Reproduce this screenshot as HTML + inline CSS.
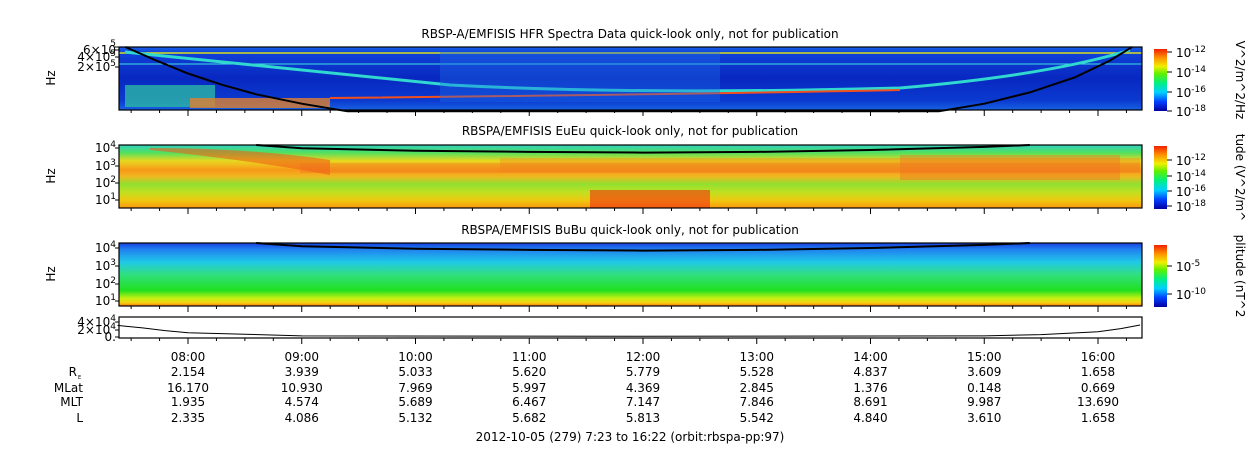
<!DOCTYPE html>
<html><head><meta charset="utf-8"><style>
body{margin:0;background:#fff;width:1250px;height:449px;overflow:hidden}
svg{display:block;font-family:"DejaVu Sans","Liberation Sans",sans-serif}
</style></head><body>
<svg id="chart" width="1250" height="449" xmlns="http://www.w3.org/2000/svg">
<defs>
<linearGradient id="g1" x1="0" y1="0" x2="0" y2="1">
<stop offset="0" stop-color="#1560e8"/><stop offset="0.1" stop-color="#1040d8"/><stop offset="0.5" stop-color="#0828c0"/><stop offset="0.85" stop-color="#0a3ad0"/><stop offset="1" stop-color="#1860e0"/></linearGradient>
<linearGradient id="g2" x1="0" y1="0" x2="0" y2="1">
<stop offset="0" stop-color="#30d0c0"/><stop offset="0.12" stop-color="#50e060"/><stop offset="0.25" stop-color="#e8d820"/><stop offset="0.4" stop-color="#f89818"/><stop offset="0.5" stop-color="#f0b820"/><stop offset="0.62" stop-color="#90e030"/><stop offset="0.75" stop-color="#c0e020"/><stop offset="0.88" stop-color="#f0c810"/><stop offset="1" stop-color="#f89810"/></linearGradient>
<linearGradient id="g3" x1="0" y1="0" x2="0" y2="1">
<stop offset="0" stop-color="#1840e0"/><stop offset="0.1" stop-color="#2080f0"/><stop offset="0.3" stop-color="#20c8e8"/><stop offset="0.5" stop-color="#30e080"/><stop offset="0.75" stop-color="#20e020"/><stop offset="0.88" stop-color="#c8f010"/><stop offset="0.95" stop-color="#f8d010"/><stop offset="1" stop-color="#f87010"/></linearGradient>
<linearGradient id="cb" x1="0" y1="1" x2="0" y2="0">
<stop offset="0" stop-color="#0000a0"/><stop offset="0.15" stop-color="#0040ff"/><stop offset="0.3" stop-color="#00d0ff"/><stop offset="0.45" stop-color="#00f080"/><stop offset="0.6" stop-color="#60f000"/><stop offset="0.72" stop-color="#f0f000"/><stop offset="0.86" stop-color="#ff9000"/><stop offset="1" stop-color="#f02000"/></linearGradient>
</defs>
<g id="layer"></g>
</svg>
<script>
// ephemeris data
const hours=[8,9,10,11,12,13,14,15,16];
const hourLabels=["08:00","09:00","10:00","11:00","12:00","13:00","14:00","15:00","16:00"];
const rE=["2.154","3.939","5.033","5.620","5.779","5.528","4.837","3.609","1.658"];
const mlat=["16.170","10.930","7.969","5.997","4.369","2.845","1.376","0.148","0.669"];
const mlt=["1.935","4.574","5.689","6.467","7.147","7.846","8.691","9.987","13.690"];
const lval=["2.335","4.086","5.132","5.682","5.813","5.542","4.840","3.610","1.658"];
// black curve in HFR panel (fraction of panel height from top)
const curveT=[7.45,7.7,8.0,8.3,8.6,9.0,9.4,14.6,15.0,15.4,15.8,16.1,16.3];
const curveP1=[0.0,0.2,0.42,0.6,0.75,0.9,1.02,1.02,0.9,0.72,0.48,0.22,0.0];
// fce curve in Eu/Bu panels (fraction of panel height from top)
const curve23T=[8.6,9.0,10,11,12,13,14,15,15.4];
const curve23V=[0.0,0.05,0.09,0.11,0.12,0.11,0.08,0.03,0.0];
// bottom panel values (fraction of axis max)
const p4T=[7.38,7.6,7.8,8.0,8.5,9.0,12,15,15.5,16,16.2,16.37];
const p4V=[0.6,0.48,0.35,0.25,0.18,0.1,0.08,0.1,0.16,0.3,0.45,0.62];
const L=119,R=1142;
const x=h=>188+(h-8)*113.75;
const layer=document.getElementById('layer');
const NS='http://www.w3.org/2000/svg';
function el(t,a,txt){const e=document.createElementNS(NS,t);for(const k in a)e.setAttribute(k,a[k]);if(txt!==undefined)e.textContent=txt;layer.appendChild(e);return e;}
const panels=[{y:47,h:63,g:'g1'},{y:145,h:63,g:'g2'},{y:243,h:63,g:'g3'}];
const names=['hfr-spectrogram','eueu-spectrogram','bubu-spectrogram'];
panels.forEach((p,i)=>{
 const r=el('rect',{x:L,y:p.y,width:R-L,height:p.h,fill:'url(#'+p.g+')'});
 
 
});
// panel 1 features
el('line',{x1:L,y1:53,x2:R,y2:53,stroke:'#d8e020','stroke-width':1.5});
el('line',{x1:L,y1:64,x2:R,y2:64,stroke:'#40e0e0','stroke-width':1});
el('path',{d:'M125,52 Q300,70 450,85 Q640,95 900,88 Q1050,75 1130,50',fill:'none',stroke:'#30d8d0','stroke-width':3});
el('path',{d:'M330,98 Q640,95 900,90',fill:'none',stroke:'#f05020','stroke-width':2});
el('rect',{x:125,y:85,width:90,height:22,fill:'#30c8a0',opacity:0.7});
el('rect',{x:190,y:98,width:140,height:10,fill:'#e08030',opacity:0.8});
el('rect',{x:440,y:52,width:280,height:50,fill:'#2070e8',opacity:0.35});
// panel 2 features
el('path',{d:'M150,150 Q250,160 330,175 L330,160 Q250,148 150,148Z',fill:'#f06018',opacity:0.6});
el('rect',{x:300,y:163,width:840,height:10,fill:'#f07020',opacity:0.35});
el('rect',{x:500,y:158,width:640,height:14,fill:'#f08020',opacity:0.35});
el('rect',{x:590,y:190,width:120,height:18,fill:'#f03010',opacity:0.6});
el('rect',{x:900,y:155,width:220,height:25,fill:'#f07020',opacity:0.4});
// curves
function curve(T,V,p){let d='';T.forEach((t,i)=>{d+=(i?'L':'M')+x(t).toFixed(1)+','+(p.y+V[i]*p.h).toFixed(1);});return d;}
const c1=el('path',{d:curve(curveT,curveP1,panels[0]),fill:'none',stroke:'#000','stroke-width':2});


[1,2].forEach(i=>{const c=el('path',{d:curve(curve23T,curve23V,panels[i]),fill:'none',stroke:'#000','stroke-width':2});
 
 });
// panel 4
const p4={y:317,h:21};
let d4='';p4T.forEach((t,i)=>{d4+=(i?'L':'M')+x(t).toFixed(1)+','+(p4.y+p4.h*(1-p4V[i])).toFixed(1);});
const l4=el('path',{d:d4,fill:'none',stroke:'#000','stroke-width':1});


// frames and ticks
[...panels,p4].forEach(p=>{
 el('rect',{x:L,y:p.y,width:R-L,height:p.h,fill:'none',stroke:'#000','stroke-width':1.2});
 for(let m=7.5;m<=16.3;m+=0.25){const X=x(m);const maj=Math.abs(m-Math.round(m))<0.01;
  el('line',{x1:X,y1:p.y+p.h,x2:X,y2:p.y+p.h+(maj?6:3),stroke:'#000','stroke-width':1});}
});
// titles
const titles=[[630,38,'RBSP-A/EMFISIS  HFR Spectra Data quick-look only, not for publication'],[630,135,'RBSPA/EMFISIS  EuEu quick-look only, not for publication'],[630,234,'RBSPA/EMFISIS  BuBu quick-look only, not for publication']];
titles.forEach((t,i)=>{const e=el('text',{x:t[0],y:t[1],'font-size':12,'text-anchor':'middle'},t[2]);
 
 });
// y ticks
function ytick(y,label,sup){const t=el('text',{x:116,y:y+4,'font-size':12,'text-anchor':'end'});
 t.appendChild(document.createTextNode(label));
 if(sup){const s=document.createElementNS(NS,'tspan');s.setAttribute('dy',-5);s.setAttribute('font-size',9);s.textContent=sup;t.appendChild(s);}
 el('line',{x1:L-4,y1:y,x2:L,y2:y,stroke:'#000'});}
ytick(47,'','5');ytick(50,'6×10','');ytick(57,'4×10','5');ytick(67,'2×10','5');
[[145,'4'],[163,'3'],[180,'2'],[197,'1']].forEach(a=>ytick(a[0]+3,'10',a[1]));
[[245,'4'],[263,'3'],[281,'2'],[298,'1']].forEach(a=>ytick(a[0]+3,'10',a[1]));
ytick(322,'4×10','4');ytick(330,'2×10','4');ytick(337,'0.','');
[78,176,274].forEach(y=>{el('text',{x:55,y:y,'font-size':12,'text-anchor':'middle',transform:'rotate(-90 55 '+y+')'},'Hz');});
// colorbars
const cbs=[[49,62,['10^-12','10^-14','10^-16','10^-18'],[52,72,92,111]],[146,63,['10^-12','10^-14','10^-16','10^-18'],[160,176,191,206]],[245,62,['10^-5','10^-10'],[266,294]]];
const cbl=['V^2/m^2/Hz','tude (V^2/m^','plitude (nT^2'];
cbs.forEach((c,i)=>{
 const r=el('rect',{x:1154,y:c[0],width:13,height:c[1],fill:'url(#cb)'});
 
 
 c[2].forEach((lb,j)=>{const y=c[3][j];el('line',{x1:1167,y1:y,x2:1172,y2:y,stroke:'#000'});
  const p=lb.split('^');const t=el('text',{x:1176,y:y+5,'font-size':12},p[0]);
  const s=document.createElementNS(NS,'tspan');s.setAttribute('dy',-5);s.setAttribute('font-size',9);s.textContent=p[1];t.appendChild(s);});
 const cy=c[0]+c[1]/2;
 el('text',{x:1236,y:cy,'font-size':12,'text-anchor':'middle',transform:'rotate(90 1236 '+cy+')'},cbl[i]);
});
// ephemeris
const rows=[[357,null,hourLabels],[372,'R',rE],[388,'MLat',mlat],[402,'MLT',mlt],[418,'L',lval]];
rows.forEach(r=>{
 if(r[1]){el('text',{x:r[1]==='R'?77:83,y:r[0]+4,'font-size':12,'text-anchor':'end'},r[1]);
  if(r[1]==='R')el('text',{x:78,y:r[0]+7,'font-size':5},'E');}
 r[2].forEach((v,i)=>{const t=el('text',{x:x(hours[i]),y:r[0]+4,'font-size':12,'text-anchor':'middle'},v);
  
  });
});
const f=el('text',{x:630,y:441,'font-size':12,'text-anchor':'middle'},'2012-10-05 (279) 7:23 to 16:22 (orbit:rbspa-pp:97)');


</script>
</body></html>
